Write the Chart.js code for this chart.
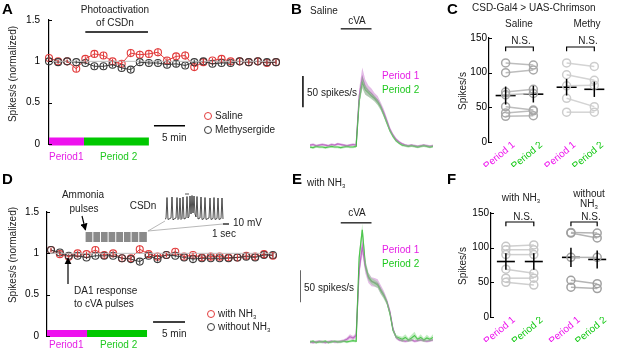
<!DOCTYPE html>
<html>
<head>
<meta charset="utf-8">
<script src="https://cdn.jsdelivr.net/npm/chart.js@4.4.0/dist/chart.umd.min.js"></script>
<style>
html, body { margin: 0; padding: 0; background: #fff; }
#fig { position: relative; width: 617px; height: 355px; overflow: hidden; font-family: "Liberation Sans", Arial, sans-serif; font-size: 10px; color: #222; }
#fig canvas, #fig svg { position: absolute; }
.t { position: absolute; white-space: nowrap; line-height: 1; transform: translateY(-50%); }
.c { transform: translate(-50%, -50%); }
.v { transform: translate(-50%, -50%) rotate(-90deg); }
.L { font-size: 15px; font-weight: bold; color: #000; }
.mg { color: #e51ee5; }
.gr { color: #1ec81e; }
.dot { position: absolute; width: 8px; height: 8px; border-radius: 50%; border: 1.2px solid; box-sizing: border-box; transform: translate(-50%, -50%); }
sub { font-size: 6px; vertical-align: -2px; line-height: 0; }
</style>
</head>
<body>
<div id="fig">
  <canvas id="cA" width="300" height="170" style="left:0;top:0"></canvas>
  <canvas id="cB" width="140" height="160" style="left:300px;top:0"></canvas>
  <canvas id="cC" width="177" height="170" style="left:440px;top:0"></canvas>
  <canvas id="cD" width="300" height="185" style="left:0;top:170px"></canvas>
  <canvas id="cIn" width="75" height="50" style="left:160px;top:185px"></canvas>
  <canvas id="cE" width="140" height="185" style="left:300px;top:170px"></canvas>
  <canvas id="cF" width="177" height="185" style="left:440px;top:170px"></canvas>

  <svg width="617" height="355" style="left:0;top:0">
    <defs><marker id="ah" viewBox="0 0 10 10" refX="9" refY="5" markerWidth="6" markerHeight="6" orient="auto"><path d="M0,0 L10,5 L0,10 z" fill="#000"/></marker></defs>
    <line x1="82" y1="216" x2="85.5" y2="230" stroke="#000" stroke-width="1.2" marker-end="url(#ah)"/>
    <line x1="68" y1="284" x2="68" y2="258" stroke="#000" stroke-width="1.2" marker-end="url(#ah)"/>
    <line x1="148" y1="231" x2="165" y2="221" stroke="#999" stroke-width="0.7"/>
    <line x1="148" y1="231" x2="223" y2="224" stroke="#999" stroke-width="0.7"/>
  </svg>

  <!-- A -->
  <div class="t L" style="left:2px;top:8px">A</div>
  <div class="t c" style="left:115px;top:10px">Photoactivation</div>
  <div class="t c" style="left:115px;top:23px">of CSDn</div>
  <div class="t v" style="left:13px;top:74px">Spikes/s (normalized)</div>
  <div class="t" style="left:162px;top:138px">5 min</div>
  <div class="t mg" style="left:49px;top:157px">Period1</div>
  <div class="t gr" style="left:100px;top:157px">Period 2</div>
  <span class="dot" style="left:208px;top:116px;border-color:#e23b3b"></span>
  <div class="t" style="left:215px;top:116px">Saline</div>
  <span class="dot" style="left:208px;top:130px;border-color:#3a3a3a"></span>
  <div class="t" style="left:215px;top:130px">Methysergide</div>

  <!-- B -->
  <div class="t L" style="left:291px;top:8px">B</div>
  <div class="t" style="left:310px;top:11px">Saline</div>
  <div class="t c" style="left:357px;top:21px">cVA</div>
  <div class="t" style="left:307px;top:93px">50 spikes/s</div>
  <div class="t mg" style="left:382px;top:76px">Period 1</div>
  <div class="t gr" style="left:382px;top:90px">Period 2</div>

  <!-- C -->
  <div class="t L" style="left:447px;top:8px">C</div>
  <div class="t" style="left:472px;top:8px">CSD-Gal4 &gt; UAS-Chrimson</div>
  <div class="t c" style="left:519px;top:24px">Saline</div>
  <div class="t c" style="left:587px;top:24px">Methy</div>
  <div class="t c" style="left:521px;top:41px">N.S.</div>
  <div class="t c" style="left:588px;top:41px">N.S.</div>
  <div class="t v" style="left:463px;top:91px">Spikes/s</div>

  <!-- D -->
  <div class="t L" style="left:2px;top:178px">D</div>
  <div class="t c" style="left:83px;top:195px">Ammonia</div>
  <div class="t c" style="left:84px;top:209px">pulses</div>
  <div class="t c" style="left:143px;top:206px">CSDn</div>
  <div class="t" style="left:233px;top:223px">10 mV</div>
  <div class="t" style="left:212px;top:234px">1 sec</div>
  <div class="t v" style="left:13px;top:255px">Spikes/s (normalized)</div>
  <div class="t" style="left:74px;top:291px">DA1 response</div>
  <div class="t" style="left:74px;top:304px">to cVA pulses</div>
  <div class="t" style="left:162px;top:334px">5 min</div>
  <div class="t mg" style="left:49px;top:345px">Period1</div>
  <div class="t gr" style="left:100px;top:345px">Period 2</div>
  <span class="dot" style="left:211px;top:314px;border-color:#e23b3b"></span>
  <div class="t" style="left:218px;top:314px">with NH<sub>3</sub></div>
  <span class="dot" style="left:211px;top:327px;border-color:#3a3a3a"></span>
  <div class="t" style="left:218px;top:327px">without NH<sub>3</sub></div>

  <!-- E -->
  <div class="t L" style="left:292px;top:178px">E</div>
  <div class="t" style="left:307px;top:183px">with NH<sub>3</sub></div>
  <div class="t c" style="left:357px;top:213px">cVA</div>
  <div class="t" style="left:304px;top:288px">50 spikes/s</div>
  <div class="t mg" style="left:382px;top:250px">Period 1</div>
  <div class="t gr" style="left:382px;top:264px">Period 2</div>

  <!-- F -->
  <div class="t L" style="left:447px;top:178px">F</div>
  <div class="t c" style="left:521px;top:198px">with NH<sub>3</sub></div>
  <div class="t c" style="left:589px;top:194px">without</div>
  <div class="t c" style="left:589px;top:204px">NH<sub>3</sub></div>
  <div class="t c" style="left:523px;top:217px">N.S.</div>
  <div class="t c" style="left:591px;top:217px">N.S.</div>
  <div class="t v" style="left:463px;top:266px">Spikes/s</div>
</div>

<script>
// ---- A: normalized spike rate per time bin ----
const salineA = [1.04, 1.00, 1.00, 0.91, 1.03, 1.09, 1.07, 1.00, 0.97, 1.10, 1.08, 1.09, 1.11, 1.01, 1.06, 1.07, 0.93, 0.99, 1.01, 1.03, 1.00, 1.00, 0.99, 1.00, 0.98, 0.99];
const salineASem = [0.03, 0.02, 0.02, 0.04, 0.03, 0.04, 0.04, 0.03, 0.04, 0.05, 0.05, 0.04, 0.05, 0.04, 0.04, 0.05, 0.04, 0.04, 0.03, 0.04, 0.03, 0.04, 0.03, 0.04, 0.03, 0.03];
const methyA = [1.00, 0.99, 1.00, 0.99, 0.98, 0.94, 0.94, 0.96, 0.92, 0.90, 0.99, 0.98, 0.98, 0.96, 0.97, 0.95, 0.99, 1.00, 0.97, 0.98, 0.98, 1.00, 0.99, 1.00, 0.99, 0.99];
const methyASem = [0.01, 0.02, 0.02, 0.02, 0.02, 0.03, 0.03, 0.03, 0.03, 0.03, 0.03, 0.03, 0.03, 0.03, 0.04, 0.03, 0.03, 0.03, 0.03, 0.03, 0.03, 0.03, 0.03, 0.03, 0.03, 0.03];
const periodsA = [0, 3.85, 11.0];     // period 1 start, period1/2 boundary, period 2 end (bins)
const photoA = [4.0, 10.9];
const fiveMinA = [11.56, 14.98];
const yTicksNorm = [0, 0.5, 1, 1.5];

// ---- D ----
const withNH3 = [1.04, 0.99, 0.96, 1.00, 0.99, 1.04, 0.98, 1.00, 0.94, 0.94, 1.05, 0.99, 0.96, 0.98, 1.02, 0.96, 0.98, 0.95, 0.96, 0.96, 0.95, 0.95, 0.97, 0.96, 0.99, 0.97];
const withNH3Sem = [0.03, 0.03, 0.02, 0.03, 0.03, 0.04, 0.03, 0.03, 0.03, 0.03, 0.05, 0.03, 0.03, 0.03, 0.04, 0.03, 0.03, 0.04, 0.04, 0.03, 0.04, 0.04, 0.04, 0.04, 0.05, 0.04];
const withoutNH3 = [1.04, 1.01, 0.97, 0.97, 0.95, 0.97, 0.97, 0.97, 0.94, 0.93, 0.90, 0.97, 0.93, 0.98, 0.97, 0.95, 0.93, 0.94, 0.94, 0.94, 0.94, 0.95, 0.96, 0.95, 0.98, 0.98];
const withoutNH3Sem = [0.02, 0.02, 0.02, 0.02, 0.02, 0.02, 0.02, 0.02, 0.02, 0.02, 0.03, 0.02, 0.03, 0.02, 0.02, 0.02, 0.03, 0.03, 0.02, 0.02, 0.02, 0.02, 0.03, 0.02, 0.03, 0.03];
const periodsD = [-0.45, 4.06, 10.82];
const fiveMinD = [11.5, 15.1];
const pulseOn = [3.9, 4.77, 5.63, 6.49, 7.35, 8.22, 9.08, 9.94];
const pulseOff = [4.66, 5.52, 6.38, 7.24, 8.11, 8.97, 9.83, 10.8];
const csdnVm = [-60, -59, -17, -61, -60, -59, -58, -16, -62, -60, -59, -58, -17, -61, -59, -18, -61, -59, -16, -60, -59, -58, -15, -58, -55, -14, -50, -13, -48, -14, -50, -56, -15, -60, -59, -58, -16, -61, -60, -59, -17, -61, -60, -59, -58, -18, -61, -60, -59, -17, -61, -60, -59, -18, -61, -60, -59, -18, -60];

// ---- B / E: PSTH, 0.1 s bins from 0 to 4 s ----
const binStep = 0.1;
const bP1 = [11, 12, 10, 11, 12, 11, 10, 12, 11, 13, 12, 11, 10, 11, 12, 11, 90, 120, 104, 98, 94, 88, 83, 74, 63, 50, 36, 27, 20, 16, 13, 11, 10, 11, 10, 9, 10, 11, 10, 9, 10];
const bP1Sem = [2, 2, 2, 2, 2, 2, 2, 2, 2, 2, 2, 2, 2, 2, 2, 2, 12, 16, 12, 9, 8, 7, 7, 6, 6, 5, 4, 3, 3, 2, 2, 2, 2, 2, 2, 2, 2, 2, 2, 2, 2];
const bP2 = [8, 7, 9, 8, 8, 7, 8, 9, 8, 8, 7, 8, 9, 8, 8, 9, 82, 112, 100, 95, 90, 86, 80, 72, 60, 47, 34, 25, 18, 14, 11, 10, 9, 10, 9, 8, 9, 10, 9, 8, 9];
const bP2Sem = [2, 2, 2, 2, 2, 2, 2, 2, 2, 2, 2, 2, 2, 2, 2, 2, 8, 10, 8, 6, 5, 5, 5, 5, 4, 4, 3, 3, 2, 2, 2, 2, 2, 2, 2, 2, 2, 2, 2, 2, 2];
const eP1 = [8, 7, 8, 9, 8, 7, 8, 9, 8, 8, 9, 10, 12, 16, 14, 18, 120, 157, 125, 108, 102, 101, 99, 90, 82, 71, 55, 28, 15, 11, 10, 9, 10, 11, 9, 10, 11, 10, 9, 10, 11];
const eP1Sem = [2, 2, 2, 2, 2, 2, 2, 2, 2, 2, 2, 2, 3, 4, 3, 4, 10, 12, 10, 8, 7, 7, 7, 7, 6, 5, 5, 4, 3, 2, 2, 2, 2, 2, 2, 2, 2, 2, 2, 2, 2];
const eP2 = [8, 9, 7, 8, 8, 9, 7, 8, 9, 8, 8, 9, 8, 9, 10, 9, 140, 183, 128, 110, 103, 100, 97, 88, 80, 70, 52, 26, 16, 14, 12, 15, 11, 14, 18, 12, 15, 11, 14, 12, 15];
const eP2Sem = [2, 2, 2, 2, 2, 2, 2, 2, 2, 2, 2, 2, 2, 2, 2, 2, 8, 10, 8, 6, 5, 5, 5, 5, 5, 4, 4, 3, 3, 3, 4, 5, 3, 5, 6, 3, 5, 3, 5, 3, 5];
const cvaOn = [1.0, 2.0];

// ---- C / F: paired spike rates ----
const periodLabels = ['Period 1', 'Period 2', 'Period 1', 'Period 2'];
const salineP1 = [114, 100, 72, 68, 51, 42, 37];
const salineP2 = [111, 104, 76, 70, 46, 45, 38];
const salineMean = [67, 69], salineSem = [13, 12];
const methyP1 = [114, 97, 81, 63, 43];
const methyP2 = [109, 89, 82, 51, 43];
const methyMean = [79, 76], methySem = [12, 11];
const withP1 = [102, 97, 90, 69, 56, 50];
const withP2 = [104, 97, 90, 63, 56, 46];
const withMean = [80, 80], withSem = [12, 12];
const withoutP1 = [122, 121, 86, 53, 43];
const withoutP2 = [121, 114, 86, 48, 41];
const withoutMean = [86, 83], withoutSem = [14, 13];
const yTicksRate = [0, 50, 100, 150];

const RED = '#e23b3b', BLK = '#3a3a3a', MAG = '#ee11ee', GRN = '#11c811';
const FONT = '"Liberation Sans", Arial, sans-serif';
Chart.defaults.font.family = FONT;
Chart.defaults.font.size = 10;
Chart.defaults.color = '#000';

const pts = (ys, x0, dx) => ys.map((v, i) => ({x: x0 + i * dx, y: v}));
const seg = (x1, x2, y) => [{x: x1, y: y}, {x: x2, y: y}];

function mark(data, color, width) {
    return {data: data, borderColor: color, backgroundColor: color, borderWidth: width, pointRadius: 0,
        fill: false, clip: false, borderCapStyle: 'butt', spanGaps: false};
}
function series(ys, sem, color) {
    return {data: pts(ys, 0, 1), sem: sem, semWidth: 1, borderColor: color, borderWidth: 1,
        pointRadius: 3.5, pointBorderWidth: 1.1, pointBorderColor: color,
        pointBackgroundColor: 'rgba(255,255,255,0)', fill: false, clip: false};
}

// vertical error bars, read from ds.sem
const errorBars = {
    id: 'errorBars',
    afterDatasetsDraw(chart) {
        const ctx = chart.ctx, x = chart.scales.x, y = chart.scales.y;
        chart.data.datasets.forEach(ds => {
            if (!ds.sem) return;
            ctx.save();
            ctx.strokeStyle = ds.semColor || ds.borderColor;
            ctx.lineWidth = ds.semWidth || 1;
            ds.data.forEach((p, j) => {
                const px = x.getPixelForValue(p.x);
                ctx.beginPath();
                ctx.moveTo(px, y.getPixelForValue(p.y - ds.sem[j]));
                ctx.lineTo(px, y.getPixelForValue(p.y + ds.sem[j]));
                ctx.stroke();
            });
            ctx.restore();
        });
    }
};
// small tick marks pointing into the plot
const inTicks = {
    id: 'inTicks',
    afterDraw(chart) {
        const y = chart.scales.y, ctx = chart.ctx;
        if (!y.options.display) return;
        ctx.save();
        ctx.strokeStyle = '#000';
        ctx.lineWidth = 1;
        y.ticks.forEach(t => {
            const py = Math.round(y.getPixelForValue(t.value)) + 0.5;
            ctx.beginPath();
            ctx.moveTo(y.right, py);
            ctx.lineTo(y.right + 3, py);
            ctx.stroke();
        });
        ctx.restore();
    }
};

function hidden(min, max) { return {type: 'linear', display: false, min: min, max: max}; }
function yAxis(min, max, ticks, width, pad) {
    return {
        type: 'linear', min: min, max: max,
        afterBuildTicks: s => { s.ticks = ticks.map(v => ({value: v})); },
        afterFit: s => { s.width = width; },
        ticks: {padding: pad, color: '#000', font: {size: 10}, callback: v => String(v)},
        grid: {drawOnChartArea: false, drawTicks: false},
        border: {color: '#000', width: 1.2}
    };
}
function opts(pad, x, y) {
    return {
        responsive: false, animation: false, devicePixelRatio: 1,
        layout: {padding: pad},
        plugins: {legend: {display: false}, tooltip: {enabled: false}},
        elements: {line: {tension: 0}},
        scales: {x: x, y: y}
    };
}

// ---------- A ----------
new Chart(document.getElementById('cA'), {
    type: 'line',
    data: {datasets: [
        mark(seg(0, 25, 1), '#bdbdbd', 1),
        series(methyA, methyASem, BLK),
        series(salineA, salineASem, RED),
        mark(seg(periodsA[0], periodsA[1], 0.03), MAG, 8),
        mark(seg(periodsA[1], periodsA[2], 0.03), '#00c800', 8),
        mark(seg(photoA[0], photoA[1], 1.355), '#000', 1.5),
        mark(seg(fiveMinA[0], fiveMinA[1], 0.22), '#000', 1.5)
    ]},
    options: opts({left: 19, right: 24, top: 20, bottom: 26}, hidden(0, 25), yAxis(0, 1.5, yTicksNorm, 30, 9)),
    plugins: [errorBars, inTicks]
});

// ---------- D ----------
const pulseData = [];
pulseOn.forEach((on, i) => {
    pulseData.push({x: on, y: 1.197}, {x: pulseOff[i], y: 1.197}, {x: pulseOff[i] + 0.01, y: null});
});
new Chart(document.getElementById('cD'), {
    type: 'line',
    data: {datasets: [
        mark(seg(-0.45, 25.35, 1), '#bdbdbd', 1),
        series(withoutNH3, withoutNH3Sem, BLK),
        series(withNH3, withNH3Sem, RED),
        mark(seg(periodsD[0], periodsD[1], 0.03), MAG, 7),
        mark(seg(periodsD[1], periodsD[2], 0.03), '#00c800', 7),
        mark(seg(fiveMinD[0], fiveMinD[1], 0.17), '#000', 1.5),
        mark(pulseData, '#8a8a8a', 10)
    ]},
    options: opts({left: 19, right: 24, top: 42, bottom: 19}, hidden(-0.45, 25.35), yAxis(0, 1.5, yTicksNorm, 28, 8)),
    plugins: [errorBars, inTicks]
});

// inset: CSDn membrane potential, 6 samples per second
new Chart(document.getElementById('cIn'), {
    type: 'line',
    data: {datasets: [
        mark(pts(csdnVm, 0, 1), '#222', 0.8),
        mark(seg(20, 24, -10), '#555', 1),
        mark([{x: 58, y: -70}, {x: 64, y: -70}, {x: 64, y: -60}], '#000', 1.2)
    ]},
    options: opts({left: 5, right: 12, top: 4, bottom: 6}, hidden(0, 58), hidden(-80, 0))
});

// ---------- B / E ----------
function psth(id, p1, s1, p2, s2, pad, ymax, cvaY, bar) {
    const up1 = p1.map((v, i) => v + s1[i]), lo1 = p1.map((v, i) => v - s1[i]);
    const up2 = p2.map((v, i) => v + s2[i]), lo2 = p2.map((v, i) => v - s2[i]);
    const shade = (ys, col, fill) => ({data: pts(ys, 0, binStep), borderWidth: 0, pointRadius: 0,
        backgroundColor: col, fill: fill});
    new Chart(document.getElementById(id), {
        type: 'line',
        data: {datasets: [
            shade(up2, 'rgba(120,215,120,0.45)', '+1'),
            shade(lo2, 'rgba(0,0,0,0)', false),
            shade(up1, 'rgba(200,120,205,0.5)', '+1'),
            shade(lo1, 'rgba(0,0,0,0)', false),
            {data: pts(p2, 0, binStep), borderColor: '#2fb82f', borderWidth: 1.2, pointRadius: 0, fill: false},
            {data: pts(p1, 0, binStep), borderColor: 'rgba(150,30,160,0.7)', borderWidth: 1.2, pointRadius: 0, fill: false},
            mark(seg(cvaOn[0], cvaOn[1], cvaY), '#000', 1.2),
            mark([{x: bar[0], y: bar[1]}, {x: bar[0], y: bar[1] + 50}], '#000', 1.5)
        ]},
        options: opts(pad, hidden(0, 4), hidden(0, ymax))
    });
}
psth('cB', bP1, bP1Sem, bP2, bP2Sem, {left: 10, right: 7, top: 27.6, bottom: 8}, 200, 198, [-0.23, 72]);
psth('cE', eP1, eP1Sem, eP2, eP2Sem, {left: 10, right: 7, top: 49, bottom: 8}, 200, 194, [-0.33, 70]);

// ---------- C / F ----------
function paired(id, groups, xs, pad, xmin, xmax, dotR, armR) {
    const ds = [];
    groups.forEach((g, k) => {
        const xa = xs[2 * k], xb = xs[2 * k + 1];
        g.p1.forEach((v, i) => {
            ds.push({data: [{x: xa, y: v}, {x: xb, y: g.p2[i]}], borderColor: g.line, borderWidth: 1.5,
                pointRadius: dotR, pointBorderWidth: 1.5, pointBorderColor: g.dot,
                pointBackgroundColor: 'rgba(255,255,255,0)', fill: false, clip: false});
        });
        ds.push({data: [{x: xa, y: g.mean[0]}, {x: xb, y: g.mean[1]}], sem: g.sem, semColor: '#000', semWidth: 1.5,
            showLine: false, pointStyle: 'line', pointRadius: armR, pointBorderWidth: 1.6,
            pointBorderColor: '#000', borderColor: '#000', clip: false});
        ds.push(mark([{x: xa, y: 131}, {x: xa, y: 137}, {x: xb, y: 137}, {x: xb, y: 131}], '#000', 1.2));
    });
    const xAxis = {
        type: 'linear', min: xmin, max: xmax, position: 'bottom',
        afterBuildTicks: s => { s.ticks = xs.map(v => ({value: v})); },
        afterFit: s => { s.height = 25; },
        ticks: {autoSkip: false, minRotation: 40, maxRotation: 40, padding: -3, labelOffset: 8,
            callback: (v, i) => periodLabels[i],
            color: c => (c.index % 2 ? GRN : MAG), font: {size: 10}},
        grid: {display: true, drawOnChartArea: false, drawTicks: false},
        border: {display: false}
    };
    new Chart(document.getElementById(id), {
        type: 'line',
        data: {datasets: ds},
        options: opts(pad, xAxis, yAxis(0, 150, yTicksRate, 28, 2)),
        plugins: [errorBars, inTicks]
    });
}
paired('cC', [
    {p1: salineP1, p2: salineP2, mean: salineMean, sem: salineSem, dot: '#a8a8a8', line: '#bdbdbd'},
    {p1: methyP1, p2: methyP2, mean: methyMean, sem: methySem, dot: '#cdcdcd', line: '#d4d4d4'}
], [1, 2, 3.2, 4.2], {left: 21, right: 2, top: 38, bottom: 3}, 0.4, 4.6, 4, 10);
paired('cF', [
    {p1: withP1, p2: withP2, mean: withMean, sem: withSem, dot: '#c6c6c6', line: '#cfcfcf'},
    {p1: withoutP1, p2: withoutP2, mean: withoutMean, sem: withoutSem, dot: '#a0a0a0', line: '#b4b4b4'}
], [1, 2, 3.33, 4.27], {left: 23, right: 2, top: 43, bottom: 13}, 0.467, 4.6, 4, 9);
</script>
</body>
</html>
